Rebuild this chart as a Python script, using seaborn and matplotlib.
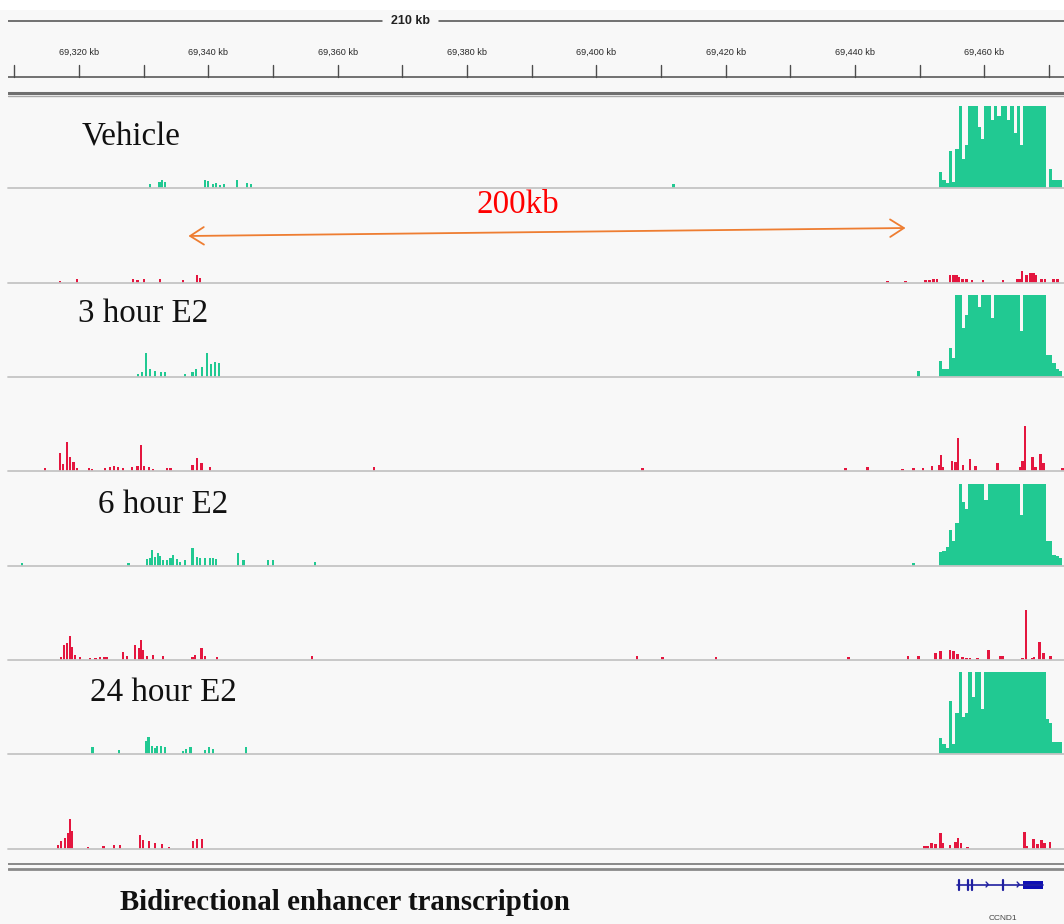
import numpy as np
import matplotlib
matplotlib.use("Agg")
import matplotlib.pyplot as plt
from matplotlib.transforms import blended_transform_factory
import seaborn as sns

# ---------------------------------------------------------------- data
VIEW_START_KB = 69309.0
VIEW_END_KB = 69472.3
TICK_KB = [69320, 69340, 69360, 69380, 69400, 69420, 69440, 69460]
TICK_LABELS = ["69,320 kb", "69,340 kb", "69,360 kb", "69,380 kb",
               "69,400 kb", "69,420 kb", "69,440 kb", "69,460 kb"]
MINOR_TICK_KB = [69310, 69330, 69350, 69370, 69390, 69410, 69430, 69450, 69470]
SPAN_LABEL = "210 kb"
DATA_MAX = 80  # track data range; higher values are clipped

CONDITIONS = ["Vehicle", "3 hour E2", "6 hour E2", "24 hour E2"]

# dense signal over the CCND1 promoter, 0.5 kb bins
BLOCK_START_KB = 69453.0
BLOCK_STEP_KB = 0.5

# Vehicle, plus strand
VEH_PLUS_POS = [69331.0, 69332.4, 69332.8, 69333.3, 69339.5, 69339.9, 69340.7,
                69341.2, 69341.8, 69342.4, 69344.4, 69346.0, 69346.6, 69411.9]
VEH_PLUS_VAL = [4, 6, 8, 6, 8, 7, 4, 5, 3, 4, 8, 5, 4, 4]
VEH_PLUS_BLOCK = [16, 8, 5, 36, 6, 38, 150, 28, 42, 150, 150, 150, 60, 48, 150,
                  150, 66, 150, 70, 150, 150, 66, 150, 54, 150, 42, 150, 150,
                  150, 150, 150, 150, 150, 0, 19, 8, 8, 8]
# Vehicle, minus strand
VEH_MINUS_POS = [69317.0, 69319.7, 69328.3, 69329.0, 69330.0, 69332.5, 69336.1,
                 69338.2, 69338.7, 69445.0, 69447.8, 69450.9, 69451.5, 69452.1,
                 69452.7, 69454.7, 69455.2, 69455.7, 69456.1, 69456.6, 69457.2,
                 69458.1, 69459.8, 69462.9, 69465.1, 69465.4, 69465.8, 69466.5,
                 69467.1, 69467.6, 69468.0, 69468.8, 69469.4, 69470.7, 69471.3]
VEH_MINUS_VAL = [2, 4, 4, 3, 4, 4, 3, 8, 5, 2, 2, 3, 3, 4, 4, 8, 8, 8, 6, 4, 4,
                 3, 3, 3, 4, 4, 12, 8, 10, 10, 8, 4, 4, 4, 4]

# 3 hour E2, plus strand
H3_PLUS_POS = [69329.1, 69329.7, 69330.3, 69331.0, 69331.7, 69332.7, 69333.3,
               69336.4, 69337.5, 69338.1, 69339.0, 69339.8, 69340.4, 69341.0,
               69341.6, 69449.8]
H3_PLUS_VAL = [3, 5, 23, 8, 6, 5, 5, 3, 5, 8, 10, 23, 13, 15, 14, 6]
H3_PLUS_BLOCK = [16, 8, 8, 28, 19, 150, 150, 48, 60, 150, 150, 150, 68, 150,
                 150, 150, 58, 150, 150, 150, 150, 150, 150, 150, 150, 45, 150,
                 150, 150, 150, 150, 150, 150, 21, 21, 14, 8, 6]
# 3 hour E2, minus strand
H3_MINUS_POS = [69314.7, 69317.0, 69317.5, 69318.1, 69318.6, 69319.1, 69319.7,
                69321.5, 69322.0, 69324.0, 69324.8, 69325.4, 69326.0, 69326.8,
                69328.2, 69329.0, 69329.6, 69330.0, 69330.8, 69331.4, 69333.6,
                69334.1, 69337.5, 69338.2, 69338.9, 69340.2, 69365.6, 69407.1,
                69438.5, 69441.9, 69447.3, 69449.0, 69450.5, 69451.9, 69453.0,
                69453.3, 69453.6, 69455.0, 69455.5, 69455.9, 69456.7, 69457.8,
                69458.6, 69462.0, 69465.6, 69465.9, 69466.3, 69467.4, 69467.9,
                69468.7, 69469.1, 69472.1]
H3_MINUS_VAL = [3, 18, 7, 28, 14, 9, 3, 3, 2, 3, 4, 5, 4, 3, 4, 5, 25, 5, 4, 2,
                3, 3, 6, 13, 8, 4, 4, 3, 3, 4, 2, 3, 3, 5, 6, 16, 4, 10, 9, 32,
                6, 12, 5, 8, 4, 10, 44, 14, 4, 17, 8, 3]

# 6 hour E2, plus strand
H6_PLUS_POS = [69311.2, 69327.6, 69330.5, 69331.0, 69331.3, 69331.7, 69332.2,
               69332.5, 69333.0, 69333.6, 69334.1, 69334.5, 69335.1, 69335.6,
               69336.4, 69337.5, 69338.2, 69338.7, 69339.5, 69340.2, 69340.7,
               69341.2, 69344.6, 69345.4, 69349.2, 69350.0, 69356.5, 69449.0]
H6_PLUS_VAL = [3, 3, 7, 8, 16, 9, 13, 10, 6, 6, 8, 11, 7, 4, 6, 18, 9, 8, 8, 8,
               8, 7, 13, 6, 6, 6, 4, 3]
H6_PLUS_BLOCK = [14, 15, 19, 35, 24, 42, 150, 62, 56, 150, 150, 150, 150, 150,
                 64, 150, 150, 150, 150, 150, 150, 150, 150, 150, 150, 50, 150,
                 150, 150, 150, 150, 150, 150, 24, 24, 11, 10, 8]
# 6 hour E2, minus strand
H6_MINUS_POS = [69317.2, 69317.7, 69318.1, 69318.6, 69318.9, 69319.4, 69320.1,
                69321.7, 69322.5, 69323.2, 69323.9, 69324.3, 69326.8, 69327.4,
                69328.6, 69329.3, 69329.6, 69329.9, 69330.5, 69331.4, 69333.0,
                69337.5, 69337.9, 69338.9, 69339.5, 69341.3, 69356.0, 69406.3,
                69410.2, 69418.5, 69439.0, 69448.2, 69449.8, 69452.4, 69453.2,
                69454.7, 69455.2, 69455.8, 69456.6, 69457.2, 69457.8, 69458.9,
                69460.6, 69462.5, 69462.9, 69465.9, 69466.4, 69467.4, 69467.7,
                69468.5, 69469.1, 69470.2]
H6_MINUS_VAL = [3, 15, 17, 23, 13, 5, 3, 2, 2, 3, 3, 3, 8, 4, 15, 12, 20, 10,
                4, 5, 4, 3, 5, 12, 4, 3, 4, 4, 3, 3, 3, 4, 4, 7, 9, 10, 9, 6, 3,
                2, 2, 2, 10, 4, 4, 2, 49, 2, 3, 18, 7, 4]

# 24 hour E2, plus strand
H24_PLUS_POS = [69322.1, 69326.2, 69330.3, 69330.7, 69331.3, 69331.7, 69332.0,
                69332.7, 69333.3, 69336.1, 69336.5, 69337.2, 69339.5, 69340.1,
                69340.7, 69345.8]
H24_PLUS_VAL = [7, 4, 13, 17, 8, 6, 8, 8, 7, 3, 5, 7, 4, 7, 5, 7]
H24_PLUS_BLOCK = [16, 10, 6, 52, 10, 40, 150, 36, 40, 150, 56, 150, 150, 44,
                  150, 150, 150, 150, 150, 150, 150, 150, 150, 150, 150, 150,
                  150, 150, 150, 150, 150, 150, 150, 34, 30, 12, 12, 12]
# 24 hour E2, minus strand
H24_MINUS_POS = [69316.7, 69317.2, 69317.8, 69318.3, 69318.6, 69318.9, 69321.4,
                 69323.8, 69325.4, 69326.3, 69329.4, 69329.9, 69330.8, 69331.7,
                 69332.8, 69333.9, 69337.6, 69338.2, 69339.0, 69450.7, 69451.2,
                 69451.8, 69452.4, 69453.2, 69453.5, 69454.7, 69455.5, 69455.9,
                 69456.4, 69457.4, 69466.2, 69466.5, 69467.6, 69468.2, 69468.8,
                 69469.3, 69470.1]
H24_MINUS_VAL = [4, 8, 11, 16, 29, 18, 2, 3, 4, 4, 14, 9, 8, 6, 5, 2, 8, 10,
                 10, 3, 3, 6, 5, 16, 6, 4, 7, 11, 6, 2, 17, 3, 10, 5, 9, 6, 7]

# CCND1 gene model (kb)
GENE_NAME = "CCND1"
GENE_START_KB = 69455.8
GENE_END_KB = 69469.1
GENE_EXON_KB = [69456.1, 69457.5, 69458.1, 69462.9]
GENE_UTR_KB = (69465.9, 69469.1)
GENE_ARROW_KB = [69460.6, 69465.4]

ARROW_SPAN_LABEL = "200kb"
ARROW_FROM_KB = 69336.9
ARROW_TO_KB = 69447.8
FOOTER = "Bidirectional enhancer transcription"

# ---------------------------------------------------------------- style
sns.set_theme(style="white")
plt.rcParams["font.family"] = ["Liberation Serif", "DejaVu Serif"]

W, H = 1064, 924
BG = "#f8f8f8"
GREEN = "#21c992"
RED = "#e4163f"
BASE_GRAY = "#c4c4c4"

fig = plt.figure(figsize=(W / 100, H / 100), dpi=100, facecolor=BG)


def px_axes(left, top, width, height):
    """Axes placed by pixel box (top-left origin)."""
    ax = fig.add_axes([left / W, 1 - (top + height) / H, width / W, height / H])
    ax.set_facecolor("none")
    for s in ax.spines.values():
        s.set_visible(False)
    ax.set_xticks([])
    ax.set_yticks([])
    return ax


# white strip at the very top
top_ax = px_axes(0, 0, W, 10)
top_ax.set_facecolor("white")

# ---------------------------------------------------------------- ruler
ruler = px_axes(8, 10, W - 8, 90)
ruler.set_xlim(VIEW_START_KB, VIEW_END_KB)
ruler.set_ylim(90, 0)  # y counts rows from the top of the ruler
line_c = "#4d4d4d"
bt = blended_transform_factory(ruler.transAxes, ruler.transData)
ruler.plot([0, 0.354], [11, 11], color=line_c, lw=1.1, transform=bt)
ruler.plot([0.408, 1.0], [11, 11], color=line_c, lw=1.1, transform=bt)
ruler.text(0.381, 11, SPAN_LABEL, transform=bt, ha="center", va="center",
           fontsize=9, fontweight="bold", family="Liberation Sans", color="#222")
for kb, lab in zip(TICK_KB, TICK_LABELS):
    ruler.text(kb, 42, lab, ha="center", va="center", fontsize=6.6,
               family="Liberation Sans", color="#2a2a2a")
for kb in TICK_KB + MINOR_TICK_KB:
    ruler.plot([kb, kb], [55, 67], color=line_c, lw=1.0)
ruler.plot([0, 1], [67, 67], color=line_c, lw=1.1, transform=bt)
ruler.plot([0, 1], [83, 83], color="#6f6f6f", lw=2.2, transform=bt)
ruler.plot([0, 1], [86.3, 86.3], color="#a8a8a8", lw=1.0, transform=bt)

# ---------------------------------------------------------------- tracks
block_pos = BLOCK_START_KB + BLOCK_STEP_KB * np.arange(len(VEH_PLUS_BLOCK))
tracks = [
    (VEH_PLUS_POS, VEH_PLUS_VAL, VEH_PLUS_BLOCK, GREEN),
    (VEH_MINUS_POS, VEH_MINUS_VAL, None, RED),
    (H3_PLUS_POS, H3_PLUS_VAL, H3_PLUS_BLOCK, GREEN),
    (H3_MINUS_POS, H3_MINUS_VAL, None, RED),
    (H6_PLUS_POS, H6_PLUS_VAL, H6_PLUS_BLOCK, GREEN),
    (H6_MINUS_POS, H6_MINUS_VAL, None, RED),
    (H24_PLUS_POS, H24_PLUS_VAL, H24_PLUS_BLOCK, GREEN),
    (H24_MINUS_POS, H24_MINUS_VAL, None, RED),
]
BASELINES = [188, 283, 377, 471, 566, 660, 754, 849]
TRACK_H = 94
track_axes = []
for (pos, val, block, color), base in zip(tracks, BASELINES):
    ax = px_axes(8, base - TRACK_H, W - 8, TRACK_H)
    ax.set_xlim(VIEW_START_KB, VIEW_END_KB)
    ax.set_ylim(0, DATA_MAX * TRACK_H / 82)
    ax.bar(pos, np.minimum(val, DATA_MAX), width=0.38, align="center",
           color=color, linewidth=0)
    if block is not None:
        ax.bar(block_pos, np.minimum(block, DATA_MAX), width=BLOCK_STEP_KB,
               align="edge", color=color, linewidth=0)
    ax.axhline(0, color=BASE_GRAY, lw=1.3, clip_on=False)
    track_axes.append(ax)

# double-headed distance arrow on the first minus-strand track
arr_ax = track_axes[1]
arr_ax.annotate("", xy=(ARROW_TO_KB, 0.585), xytext=(ARROW_FROM_KB, 0.5),
                xycoords=("data", "axes fraction"),
                textcoords=("data", "axes fraction"),
                arrowprops=dict(arrowstyle="<->,head_length=0.55,head_width=0.35",
                                color="#ee7d31", lw=1.3, mutation_scale=18,
                                shrinkA=0, shrinkB=0))

# condition labels
label_xy = [(82, 145), (78, 322), (98, 513), (90, 701)]
for name, (lx, ly) in zip(CONDITIONS, label_xy):
    fig.text(lx / W, 1 - ly / H, name, ha="left", va="baseline",
             fontsize=23.8, color="#111")
fig.text(477 / W, 1 - 213 / H, ARROW_SPAN_LABEL, ha="left", va="baseline",
         fontsize=23.8, color="#ff0000")

# ---------------------------------------------------------------- gene track
gene = px_axes(8, 856, W - 8, H - 856)
gene.set_xlim(VIEW_START_KB, VIEW_END_KB)
gene.set_ylim(H - 856, 0)
gbt = blended_transform_factory(gene.transAxes, gene.transData)
gene.plot([0, 1], [8, 8], color="#6a6a6a", lw=1.1, transform=gbt)
gene.plot([0, 1], [12.5, 12.5], color="#8a8a8a", lw=2.0, transform=gbt)
NAVY = "#1f1fa0"
gy = 28.5
gene.plot([GENE_START_KB, GENE_END_KB], [gy, gy], color=NAVY, lw=1.2)
for kb in GENE_EXON_KB:
    gene.plot([kb, kb], [gy - 5, gy + 5], color=NAVY, lw=1.6)
for kb in GENE_ARROW_KB:
    gene.plot([kb - 0.35, kb, kb - 0.35], [gy - 2.5, gy, gy + 2.5],
              color=NAVY, lw=1.0)
gene.fill_between(list(GENE_UTR_KB), gy - 4, gy + 4, color="#0f0fb4", lw=0)
gene.text((GENE_START_KB + GENE_END_KB) / 2 + 0.4, H - 856 - 1.5, GENE_NAME,
          ha="center", va="bottom", fontsize=6.0, family="Liberation Sans",
          color="#444", clip_on=False)

fig.text(120 / W, 1 - 910 / H, FOOTER, ha="left", va="baseline",
         fontsize=20.8, fontweight="bold", color="#111")

fig.savefig("out.png", dpi=100, facecolor=BG)
